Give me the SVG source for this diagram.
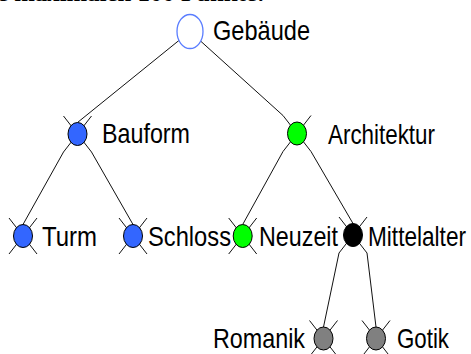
<svg xmlns="http://www.w3.org/2000/svg" width="471" height="354" viewBox="0 0 471 354">
<style>
.lbl{font-family:"Liberation Sans",Arial,sans-serif;font-size:28px;fill:#000}
.top{font-family:"Liberation Serif","Times New Roman",serif;font-size:24px;font-weight:bold;fill:#000}
.c line,.x line{stroke:#111;stroke-width:1}
.n{stroke:#000;stroke-width:1}
.blue{fill:#3366ff}.green{fill:#00ff00}.black{fill:#000}.grey{fill:#808080}
</style>
<rect width="471" height="354" fill="#fff"/>
<text class="top" x="-3" y="0.5" textLength="268" lengthAdjust="spacingAndGlyphs">e maximalen 100 Punkte:</text>
<g id="connectors" class="c">
<line x1="190" y1="31.5" x2="77.5" y2="122.5"/>
<line x1="190" y1="31.5" x2="283" y2="115.5"/>
<line x1="63.5" y1="152" x2="23" y2="224.5"/>
<line x1="91.5" y1="152" x2="133" y2="224.5"/>
<line x1="283" y1="151.5" x2="242.7" y2="224.5"/>
<line x1="311" y1="151.5" x2="353" y2="223.5"/>
<line x1="339" y1="253" x2="323.5" y2="327"/>
<line x1="367" y1="253" x2="376" y2="327"/>
</g>
<g id="gebaeude">
<ellipse cx="190" cy="31.5" rx="13" ry="17" fill="#fff" stroke="#5a7dff" stroke-width="1.3"/>
<text class="lbl" x="213" y="40" textLength="97" lengthAdjust="spacingAndGlyphs">Gebäude</text>
</g>
<g id="bauform" class="x">
<line x1="63.5" y1="116" x2="91.5" y2="152"/><line x1="91.5" y1="116" x2="63.5" y2="152"/>
<ellipse class="n blue" cx="77.5" cy="134" rx="9.5" ry="11.5"/>
<text class="lbl" x="102" y="143" textLength="88" lengthAdjust="spacingAndGlyphs">Bauform</text>
</g>
<g id="architektur" class="x">
<line x1="283" y1="115.5" x2="311" y2="151.5"/><line x1="311" y1="115.5" x2="283" y2="151.5"/>
<ellipse class="n green" cx="297" cy="133.5" rx="9.5" ry="11.5"/>
<text class="lbl" x="328" y="144" textLength="107" lengthAdjust="spacingAndGlyphs">Architektur</text>
</g>
<g id="turm" class="x">
<line x1="9" y1="218" x2="37" y2="254"/><line x1="37" y1="218" x2="9" y2="254"/>
<ellipse class="n blue" cx="23" cy="236" rx="9.5" ry="11.5"/>
<text class="lbl" x="42" y="246" textLength="55" lengthAdjust="spacingAndGlyphs">Turm</text>
</g>
<g id="schloss" class="x">
<line x1="119" y1="218" x2="147" y2="254"/><line x1="147" y1="218" x2="119" y2="254"/>
<ellipse class="n blue" cx="133" cy="236" rx="9.5" ry="11.5"/>
<text class="lbl" x="148" y="246" textLength="83" lengthAdjust="spacingAndGlyphs">Schloss</text>
</g>
<g id="neuzeit" class="x">
<line x1="228.7" y1="218" x2="256.7" y2="254"/><line x1="256.7" y1="218" x2="228.7" y2="254"/>
<ellipse class="n green" cx="242.7" cy="236" rx="9.5" ry="11.5"/>
<text class="lbl" x="259" y="246" textLength="79" lengthAdjust="spacingAndGlyphs">Neuzeit</text>
</g>
<g id="mittelalter" class="x">
<line x1="339" y1="217" x2="367" y2="253"/><line x1="367" y1="217" x2="339" y2="253"/>
<ellipse class="n black" cx="353" cy="235" rx="9.5" ry="11.5"/>
<text class="lbl" x="368" y="246" textLength="98" lengthAdjust="spacingAndGlyphs">Mittelalter</text>
</g>
<g id="romanik" class="x">
<line x1="309.5" y1="320.5" x2="337.5" y2="356.5"/><line x1="337.5" y1="320.5" x2="309.5" y2="356.5"/>
<ellipse class="n grey" cx="323.5" cy="338.5" rx="9.5" ry="11.5"/>
<text class="lbl" x="213" y="348" textLength="92" lengthAdjust="spacingAndGlyphs">Romanik</text>
</g>
<g id="gotik" class="x">
<line x1="362" y1="320.5" x2="390" y2="356.5"/><line x1="390" y1="320.5" x2="362" y2="356.5"/>
<ellipse class="n grey" cx="376" cy="338.5" rx="9.5" ry="11.5"/>
<text class="lbl" x="397" y="348" textLength="52" lengthAdjust="spacingAndGlyphs">Gotik</text>
</g>
</svg>
